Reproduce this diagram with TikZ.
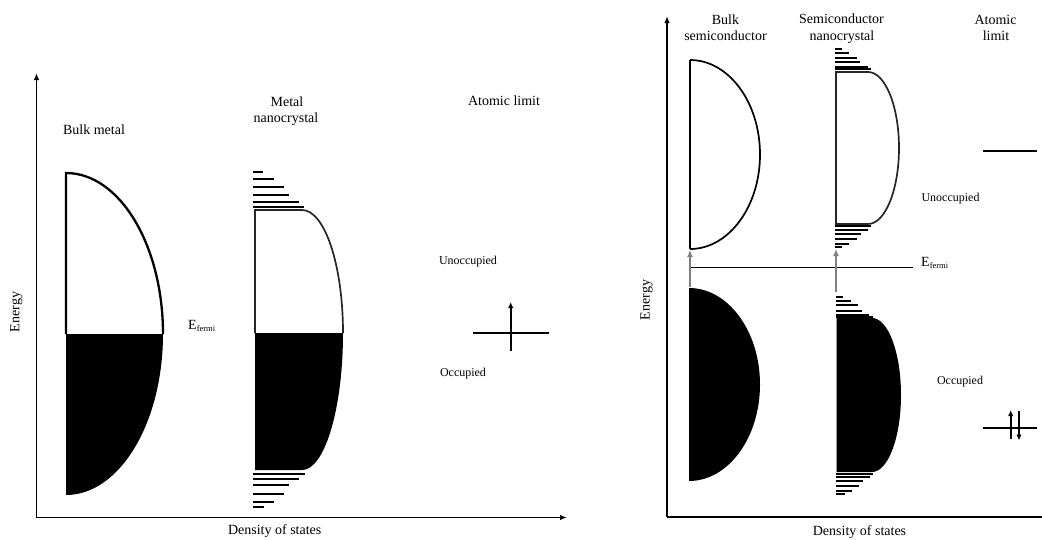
\documentclass[tikz,border=0pt]{standalone}
\usepackage{fontspec}
\setmainfont{Liberation Serif}
\usetikzlibrary{arrows.meta}
\begin{document}
\begin{tikzpicture}[x=1pt,y=-1pt,
  lab/.style={font=\fontsize{14}{16}\selectfont, inner sep=0pt, anchor=base},
  small/.style={font=\fontsize{12}{14}\selectfont, inner sep=0pt, anchor=base},
  axis/.style={line width=1.6pt, -{Latex[length=7pt,width=5.5pt]}},
  band/.style={line width=2.3pt},
  outl/.style={line width=1.7pt, draw=black!85},
  lvl/.style={line width=2pt},
  garrow/.style={line width=2.3pt, draw=black!50, -{Latex[length=7pt,width=6pt]}},
  spin/.style={line width=2pt, -{Latex[length=6pt,width=5.5pt]}},
  orb/.style={line width=2pt}]
\useasboundingbox (0,0) rectangle (1042,539);

% ===== Left panel: metal =====
\coordinate (Lo) at (36.5,517.5);
\coordinate (Ly) at (36.5,73);
\coordinate (Lx) at (567,517.5);
\draw[axis] (Lo) -- (Ly);
\draw[axis] (Lo) -- (Lx);
\node[lab, rotate=90] (Lenergy) at (19.5,312) {Energy};
\node[lab] (Ldos) at (274.7,534) {Density of states};

\node[lab] (Lbulk) at (94,134.5) {Bulk metal};
\node[lab] (Lmet1) at (287,106) {Metal};
\node[lab] (Lmet2) at (286,122.5) {nanocrystal};
\node[lab] (Latom) at (504,105) {Atomic limit};
\node[lab, anchor=base west] (Lfermi) at (188,329) {E\textsubscript{\fontsize{8.5}{9}\selectfont fermi}};
\node[small] (Lunocc) at (468,264.3) {Unoccupied};
\node[small] (Locc) at (463,376.7) {Occupied};

% bulk metal band
\fill (66,334) -- (163,334) arc[start angle=0, end angle=90, x radius=97, y radius=161] -- cycle;
\draw[band] (66,334) -- (66,173) arc[start angle=-90, end angle=0, x radius=97, y radius=161];
\draw[line width=1pt] (66,495) -- (66,334);

% metal nanocrystal
\fill (255,333) -- (343,333) arc[start angle=0, end angle=90, x radius=41, y radius=137] -- (255,470) -- cycle;
\draw[outl] (255,333) -- (255,210) -- (302,210) arc[start angle=-90, end angle=0, x radius=41, y radius=123];
\foreach \yy/\xx in {171.7/263,178.7/274,186.7/284,194.7/289,202/299,206.8/304,
                     474/305,479/299,485.3/289,493.7/284,501.7/274,507/264}
  \draw[lvl] (253,\yy) -- (\xx,\yy);

% atomic limit (metal)
\coordinate (La) at (473,333);
\coordinate (Lb) at (549,333);
\coordinate (Lc) at (510.7,351);
\coordinate (Ld) at (510.7,302);
\draw[orb] (La) -- (Lb);
\draw[spin] (Lc) -- (Ld);

% ===== Right panel: semiconductor =====
\coordinate (Ro) at (667,517);
\coordinate (Ry) at (667,16);
\coordinate (Rx) at (1042,517);
\draw[axis] (Ro) -- (Ry);
\draw[line width=1.8pt] (Ro) -- (Rx);
\node[lab, rotate=90] (Renergy) at (649.5,300) {Energy};
\node[lab] (Rdos) at (859.5,535.7) {Density of states};

\node[lab] (Rbulk1) at (725.5,24) {Bulk};
\node[lab] (Rbulk2) at (725.5,40) {semiconductor};
\node[lab] (Rnano1) at (841.5,23.5) {Semiconductor};
\node[lab] (Rnano2) at (842,40) {nanocrystal};
\node[lab] (Ratom1) at (995.5,24) {Atomic};
\node[lab] (Ratom2) at (996,40) {limit};
\node[small] (Runocc) at (950.5,201) {Unoccupied};
\node[small] (Rocc) at (960,384) {Occupied};

% Fermi level
\coordinate (Fa) at (690,267);
\coordinate (Fb) at (913,267);
\draw[line width=1pt] (Fa) -- (Fb);
\node[lab, anchor=base west] (Rfermi) at (921,266.5) {E\textsubscript{\fontsize{8.5}{9}\selectfont fermi}};

% bulk semiconductor bands
\draw[line width=1.7pt] (690,60) arc[start angle=-90, end angle=90, x radius=70, y radius=94.5];
\draw[band] (690,60) -- (690,249);
\fill (689,288) arc[start angle=-90, end angle=90, x radius=71, y radius=96.5] -- cycle;

% semiconductor nanocrystal bands
\draw[outl] (868,72) -- (836,72) -- (836,224) -- (868,224) arc[start angle=90, end angle=-90, x radius=31, y radius=76];
\fill (836,318) -- (872,318) arc[start angle=-90, end angle=90, x radius=29, y radius=77] -- (836,472) -- cycle;
\draw[line width=1pt, draw=black!40] (836,318) -- (836,472);
\foreach \yy/\xx in {49.3/842,53.3/849,58.3/857,62.3/860,66.7/868,69.3/871,
                     225.7/871,230/868,234.3/861,239/857,243.7/849,247/842}
  \draw[lvl] (834.5,\yy) -- (\xx,\yy);
\foreach \yy/\xx in {296.7/843,300.7/851,305.3/858,310.7/862,315/869,317.3/873,
                     474/873,476.7/870,481/863,486/859,490.7/852,494/845}
  \draw[lvl] (835.5,\yy) -- (\xx,\yy);

% grey gap arrows
\coordinate (Ga1) at (690,287);
\coordinate (Ga2) at (690,250);
\coordinate (Gb1) at (836,292);
\coordinate (Gb2) at (836,249);
\draw[garrow] (Ga1) -- (Ga2);
\draw[garrow] (Gb1) -- (Gb2);

% atomic limit (semiconductor)
\coordinate (Ra) at (983,150.5);
\coordinate (Rb) at (1037,150.5);
\draw[orb] (Ra) -- (Rb);
\coordinate (Rc) at (983,427.7);
\coordinate (Rd) at (1037,427.7);
\draw[orb] (Rc) -- (Rd);
\coordinate (Ru1) at (1010.7,439);
\coordinate (Ru2) at (1010.7,410);
\coordinate (Rd1) at (1019,411);
\coordinate (Rd2) at (1019,440.5);
\draw[spin] (Ru1) -- (Ru2);
\draw[spin] (Rd1) -- (Rd2);
\end{tikzpicture}
\end{document}
